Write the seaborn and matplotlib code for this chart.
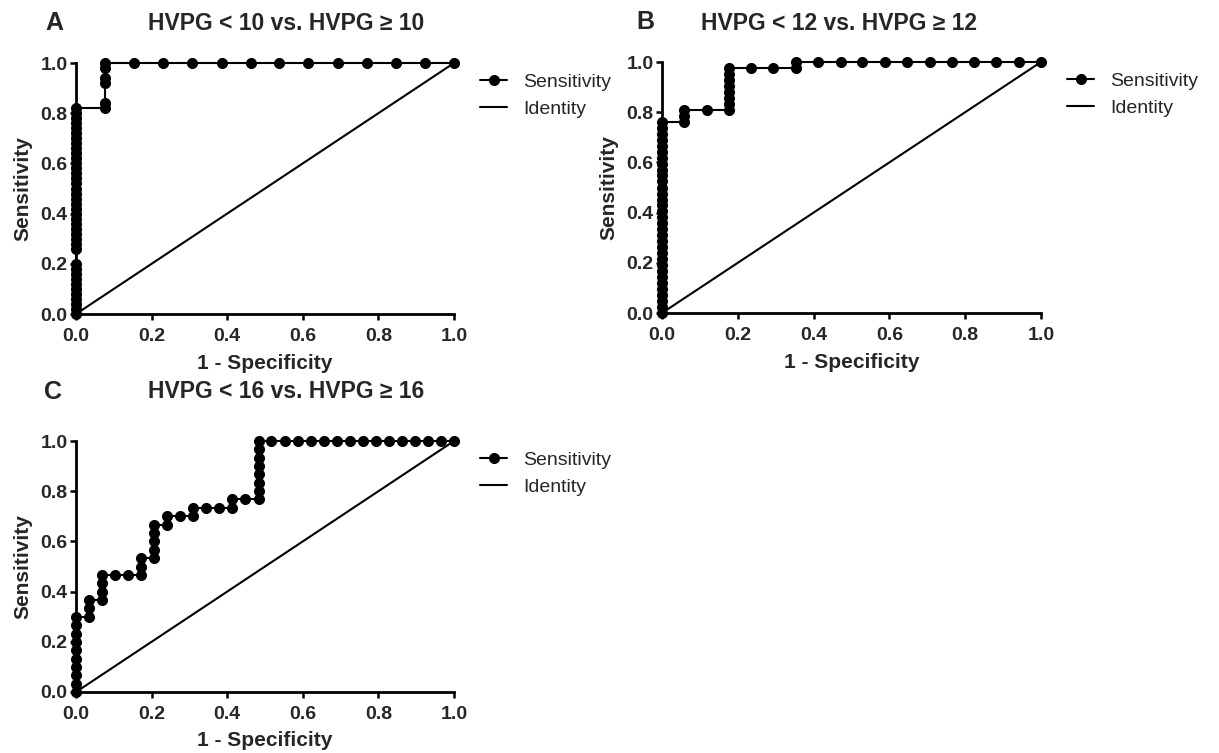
import matplotlib
matplotlib.use('Agg')
import matplotlib.pyplot as plt
import seaborn as sns
import numpy as np

sns.set_style('ticks')
plt.rcParams['font.family'] = ['Liberation Sans', 'DejaVu Sans']

# panel A: HVPG < 10 vs >= 10
fpr_a = [0.0] * 40 + [0.077] * 6 + [0.154, 0.231, 0.308, 0.385, 0.462, 0.538,
                                    0.615, 0.692, 0.769, 0.846, 0.923, 1.0]
tpr_a = [0.00, 0.02, 0.04, 0.06, 0.08, 0.10, 0.12, 0.14, 0.16, 0.18, 0.20,
         0.26, 0.28, 0.30, 0.32, 0.34, 0.36, 0.38, 0.40, 0.42, 0.44, 0.46,
         0.48, 0.50, 0.52, 0.54, 0.56, 0.58, 0.60, 0.62, 0.64, 0.66, 0.68,
         0.70, 0.72, 0.74, 0.76, 0.78, 0.80, 0.82,
         0.82, 0.84, 0.92, 0.94, 0.98, 1.00,
         1.0, 1.0, 1.0, 1.0, 1.0, 1.0, 1.0, 1.0, 1.0, 1.0, 1.0, 1.0]

# panel B: HVPG < 12 vs >= 12
fpr_b = [0.0] * 33 + [0.059] * 3 + [0.118] + [0.176] * 8 + [0.235, 0.294, 0.353, 0.353,
         0.412, 0.471, 0.529, 0.588, 0.647, 0.706, 0.765, 0.824, 0.882, 0.941, 1.0]
tpr_b = [0.000, 0.024, 0.048, 0.071, 0.095, 0.119, 0.143, 0.167, 0.190, 0.214,
         0.238, 0.262, 0.286, 0.310, 0.333, 0.357, 0.381, 0.405, 0.429, 0.452,
         0.476, 0.500, 0.524, 0.548, 0.571, 0.595, 0.619, 0.643, 0.667, 0.690,
         0.714, 0.738, 0.762,
         0.762, 0.786, 0.810,
         0.810,
         0.810, 0.833, 0.857, 0.881, 0.905, 0.929, 0.952, 0.976,
         0.976, 0.976, 0.976, 1.0,
         1.0, 1.0, 1.0, 1.0, 1.0, 1.0, 1.0, 1.0, 1.0, 1.0, 1.0]

# panel C: HVPG < 16 vs >= 16
fpr_c = ([0.0] * 10 + [0.034] * 3 + [0.069] * 4 + [0.103, 0.138] + [0.172] * 3
         + [0.207] * 5 + [0.241] * 2 + [0.276] + [0.310] * 2 + [0.345, 0.379]
         + [0.414] * 2 + [0.448] + [0.483] * 8
         + [0.517, 0.552, 0.586, 0.621, 0.655, 0.690, 0.724, 0.759, 0.793,
            0.828, 0.862, 0.897, 0.931, 0.966, 1.0])
tpr_c = [0.000, 0.033, 0.067, 0.100, 0.133, 0.167, 0.200, 0.233, 0.267, 0.300,
         0.300, 0.333, 0.367,
         0.367, 0.400, 0.433, 0.467,
         0.467, 0.467,
         0.467, 0.500, 0.533,
         0.533, 0.567, 0.600, 0.633, 0.667,
         0.667, 0.700,
         0.700,
         0.700, 0.733,
         0.733, 0.733,
         0.733, 0.767,
         0.767,
         0.767, 0.800, 0.833, 0.867, 0.900, 0.933, 0.967, 1.000,
         1.0, 1.0, 1.0, 1.0, 1.0, 1.0, 1.0, 1.0, 1.0, 1.0, 1.0, 1.0, 1.0, 1.0, 1.0]

ticks = [0, 0.2, 0.4, 0.6, 0.8, 1.0]
tick_labels = ['0.0', '0.2', '0.4', '0.6', '0.8', '1.0']

panels = [
    ('A', 'HVPG < 10 vs. HVPG \u2265 10', fpr_a, tpr_a),
    ('B', 'HVPG < 12 vs. HVPG \u2265 12', fpr_b, tpr_b),
    ('C', 'HVPG < 16 vs. HVPG \u2265 16', fpr_c, tpr_c),
]

W, H = 1219, 753
fig = plt.figure(figsize=(W / 100, H / 100), dpi=100)

# axes boxes in pixels: left, top, right, bottom
boxes = [(76, 63, 454, 314), (662, 62, 1041, 313), (76, 441, 454, 692)]
letter_pos = [(54, 23), (645, 22), (53, 392)]
title_pos = [(286, 23), (839, 23), (286, 392)]

for (letter, title, fpr, tpr), (l, t, r, b), lp, tp in zip(panels, boxes, letter_pos, title_pos):
    ax = fig.add_axes([l / W, 1 - b / H, (r - l) / W, (b - t) / H])
    sns.lineplot(x=fpr, y=tpr, ax=ax, sort=False, estimator=None, color='black',
                 marker='o', markersize=7.2, markeredgecolor='black', linewidth=1.5,
                 label='Sensitivity', clip_on=False, zorder=3)
    sns.lineplot(x=[0, 1], y=[0, 1], ax=ax, color='black', linewidth=1.5,
                 label='Identity', clip_on=False)
    ax.set_xlim(0, 1)
    ax.set_ylim(0, 1)
    ax.set_xticks(ticks)
    ax.set_yticks(ticks)
    ax.set_xticklabels(tick_labels, fontweight='bold', fontsize=14)
    ax.set_yticklabels(tick_labels, fontweight='bold', fontsize=14)
    ax.tick_params(width=1.8, length=4.5, color='black')
    ax.tick_params(axis='x', pad=5.5)
    ax.tick_params(axis='y', pad=1.5)
    for s in ['left', 'bottom']:
        ax.spines[s].set_linewidth(2)
        ax.spines[s].set_color('black')
    sns.despine(ax=ax)
    ax.set_xlabel('1 - Specificity', fontweight='bold', fontsize=15, va='center')
    ax.set_ylabel('Sensitivity', fontweight='bold', fontsize=15, va='center')
    ax.xaxis.set_label_coords(0.5, -(49 / (b - t)))
    ax.yaxis.set_label_coords(-(53 / (r - l)), 0.5)
    ax.legend(loc='upper left', bbox_to_anchor=(1.069, 0.96), frameon=False,
              fontsize=14, handlelength=1.4, handletextpad=0.8, labelspacing=0.5,
              borderaxespad=0, borderpad=0)
    fig.text(lp[0] / W, 1 - lp[1] / H, letter, fontsize=18, fontweight='bold',
             ha='center', va='center')
    fig.text(tp[0] / W, 1 - tp[1] / H, title, fontsize=16.5, fontweight='bold',
             ha='center', va='center')

fig.savefig('out.png', dpi=100, facecolor='white')
